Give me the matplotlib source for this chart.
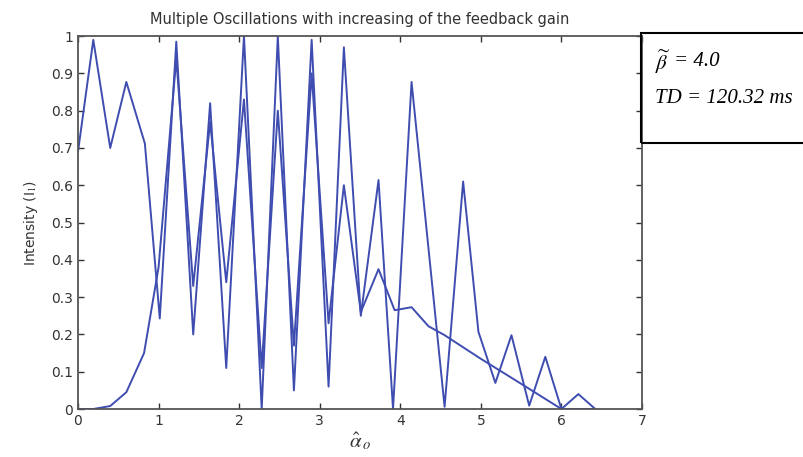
import matplotlib.pyplot as plt
plt.switch_backend('agg')
import numpy as np
from matplotlib.patches import Rectangle

plt.rcParams['mathtext.fontset'] = 'stix'

# branch starting high
x_upper = [0, 0.19, 0.40, 0.60, 0.83, 1.015, 1.22, 1.43, 1.64, 1.84, 2.06, 2.28, 2.48, 2.68,
           2.90, 3.11, 3.30, 3.51, 3.73, 3.91, 4.14, 4.55, 4.78, 4.97, 5.18, 5.38, 5.60, 5.80,
           6.00, 6.21, 6.42]
y_upper = [0.69, 0.99, 0.70, 0.877, 0.712, 0.243, 0.985, 0.20, 0.82, 0.11, 1.0, 0.0, 1.0, 0.05,
           0.99, 0.06, 0.97, 0.25, 0.614, 0.0, 0.877, 0.006, 0.61, 0.207, 0.07, 0.198, 0.009, 0.14,
           0.0, 0.04, 0.0]

# branch starting at zero
x_lower = [0, 0.19, 0.40, 0.60, 0.82, 1.0, 1.22, 1.43, 1.64, 1.84, 2.06, 2.28, 2.48, 2.68,
           2.90, 3.11, 3.30, 3.51, 3.73, 3.93, 4.14, 4.35, 4.55, 4.99, 5.49, 6.00, 6.42]
y_lower = [0, 0, 0.008, 0.045, 0.15, 0.38, 0.94, 0.33, 0.77, 0.34, 0.83, 0.11, 0.80, 0.17,
           0.90, 0.23, 0.60, 0.26, 0.375, 0.265, 0.273, 0.222, 0.198, 0.136, 0.069, 0.0, 0.0]

xticks = list(range(8))
yticks = [0, 0.1, 0.2, 0.3, 0.4, 0.5, 0.6, 0.7, 0.8, 0.9, 1]
yticklabels = ['0', '0.1', '0.2', '0.3', '0.4', '0.5', '0.6', '0.7', '0.8', '0.9', '1']

line_color = '#3f4db0'
grey = '#333333'

fig = plt.figure(figsize=(8.04, 4.57), dpi=100)
ax = fig.add_axes([0.097, 0.105, 0.7015, 0.816])

ax.plot(x_upper, y_upper, color=line_color, linewidth=1.4)
ax.plot(x_lower, y_lower, color=line_color, linewidth=1.4)

ax.set_xlim(0, 7)
ax.set_ylim(0, 1)
ax.set_xticks(xticks)
ax.set_yticks(yticks)
ax.set_yticklabels(yticklabels)
ax.tick_params(direction='in', top=True, right=True, length=4, width=1,
               labelsize=10, labelcolor=grey, color=grey)
for s in ax.spines.values():
    s.set_linewidth(1.3)
    s.set_color('#555555')

ax.set_title('Multiple Oscillations with increasing of the feedback gain',
             fontsize=10.5, color=grey, pad=9)
ax.set_xlabel(r'$\hat{\alpha}_{\,o}$', fontsize=15, color=grey, labelpad=2)
ax.set_ylabel(r'Intensity (I$_1$)', fontsize=10, color=grey, labelpad=8)

# parameter box on the right
fig.patches.append(Rectangle((0.797, 0.687), 0.21, 0.241, transform=fig.transFigure,
                             fill=False, edgecolor='black', linewidth=1.5, clip_on=False))
fig.text(0.815, 0.865, r'$\widetilde{\beta}$', fontsize=15, va='center')
fig.text(0.838, 0.865, '= 4.0', fontsize=15, va='center',
         family='Liberation Serif', style='italic')
fig.text(0.815, 0.785, 'TD = 120.32 ms', fontsize=15, va='center',
         family='Liberation Serif', style='italic')

fig.savefig('out.png', dpi=100)
